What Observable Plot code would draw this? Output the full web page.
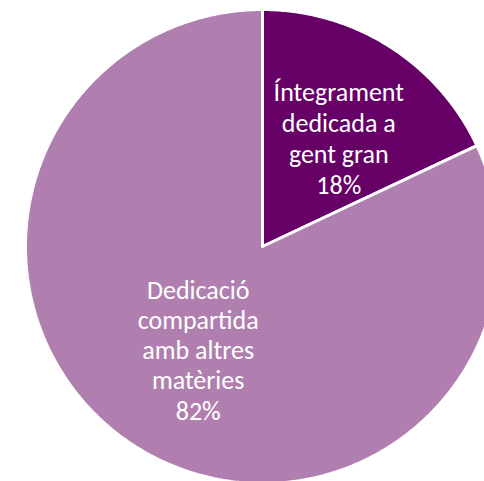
<!DOCTYPE html>
<html><head><meta charset="utf-8">
<script src="https://cdn.jsdelivr.net/npm/d3@7"></script>
<script src="https://cdn.jsdelivr.net/npm/@observablehq/plot@0.6"></script>
<style>html,body{margin:0;padding:0;background:#fff;overflow:hidden}</style>
</head><body><div id="chart"></div>
<script>
const categories = ["Íntegrament dedicada a gent gran", "Dedicació compartida amb altres matèries"];
const labelLines = [["Íntegrament", "dedicada a", "gent gran"], ["Dedicació", "compartida", "amb altres", "matèries"]];
const values = [18, 82];
const colors = ["#660066", "#b07fb0"];

const total = d3.sum(values);
const pie = d3.pie().sort(null).value(d => d.value);
const arcs = pie(categories.map((c, i) => ({category: c, value: values[i], lines: labelLines[i]})));
const pts = [];
arcs.forEach(a => {
  pts.push({category: a.data.category, x: 0, y: 0});
  const n = Math.ceil((a.endAngle - a.startAngle) / (Math.PI / 360));
  for (let k = 0; k <= n; k++) {
    const t = a.startAngle + (a.endAngle - a.startAngle) * k / n;
    pts.push({category: a.data.category, x: Math.sin(t), y: Math.cos(t)});
  }
  pts.push({category: a.data.category, x: 0, y: 0});
});
const mid = a => (a.startAngle + a.endAngle) / 2;
const labelR = 0.53;
const label = a => a.data.lines.join("\n") + "\n" + Math.round(a.data.value / total * 100) + "%";
const textOpts = (i, dx, dy, lineHeight) => ({
  filter: (d, j) => j === i,
  x: a => Math.sin(mid(a)) * labelR,
  y: a => Math.cos(mid(a)) * labelR,
  text: label, dx, dy,
  fill: "white", fontSize: 26, lineHeight,
  fontFamily: "Carlito, Calibri, Lato, sans-serif",
  textAnchor: "middle", lineAnchor: "middle"
});

const chart = Plot.plot({
  width: 484, height: 481,
  x: {domain: [-1, 1], range: [25, 499], axis: null},
  y: {domain: [-1, 1], range: [483, 9], axis: null},
  color: {domain: categories, range: colors},
  marks: [
    Plot.line(pts, {x: "x", y: "y", z: "category", fill: "category", stroke: "white", strokeWidth: 3, strokeLinejoin: "miter", curve: "linear"}),
    Plot.text(arcs, textOpts(0, 9, -3, 1.2)),
    Plot.text(arcs, textOpts(1, 3, -3, 1.16))
  ]
});
document.getElementById("chart").appendChild(chart);
</script>
</body></html>
